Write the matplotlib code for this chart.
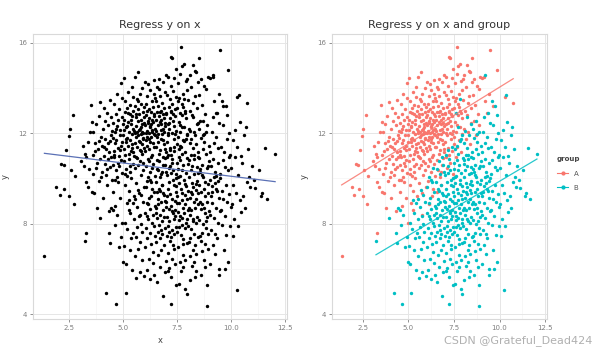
import matplotlib.pyplot as plt
import numpy as np

# points, (x, y)
group_a = [
    (1.35, 6.55), (1.90, 9.64), (2.05, 9.25), (2.13, 10.64), (2.24, 10.60), (2.35, 11.27), (2.28, 9.55),
    (2.52, 12.18), (2.47, 11.86), (2.59, 10.39), (2.79, 10.10), (2.69, 12.80), (2.72, 8.88), (2.50, 9.23),
    (3.05, 10.75), (3.12, 11.42), (3.18, 10.55), (3.22, 11.10), (3.30, 9.85), (3.35, 11.60), (3.41, 10.40),
    (3.46, 12.05), (3.50, 13.24), (3.28, 10.95), (3.38, 9.60), (3.29, 7.60),
    (3.54, 12.49), (3.58, 11.05), (3.62, 10.20), (3.66, 9.35), (3.70, 11.55), (3.72, 12.40), (3.78, 10.70),
    (3.80, 8.69), (3.84, 11.30), (3.88, 9.90), (3.92, 10.85), (3.95, 13.37), (3.97, 11.85), (3.60, 12.05),
    (3.68, 11.20), (3.74, 10.45), (3.86, 12.75), (3.99, 10.05), (3.56, 9.40), (3.90, 11.65),
    (4.02, 11.45), (4.04, 10.30), (4.06, 12.20), (4.08, 9.15), (4.10, 11.00), (4.12, 13.10), (4.14, 10.65),
    (4.16, 11.75), (4.18, 12.55), (4.20, 10.15), (4.22, 11.30), (4.24, 9.70), (4.26, 12.90), (4.28, 11.55),
    (4.30, 10.85), (4.32, 12.35), (4.34, 8.55), (4.36, 11.15), (4.38, 13.45), (4.40, 10.50), (4.42, 11.90),
    (4.44, 12.70), (4.46, 10.95), (4.48, 9.95), (4.13, 11.40), (4.27, 10.40), (4.39, 11.65), (4.47, 12.10),
    (4.51, 11.80), (4.52, 10.60), (4.54, 12.45), (4.55, 9.40), (4.57, 11.20), (4.58, 13.30), (4.60, 10.95),
    (4.61, 12.05), (4.63, 11.55), (4.64, 8.80), (4.66, 12.85), (4.67, 10.35), (4.69, 11.70), (4.70, 13.75),
    (4.72, 10.05), (4.73, 12.30), (4.75, 11.35), (4.76, 9.85), (4.78, 12.60), (4.79, 11.00), (4.81, 10.55),
    (4.82, 13.05), (4.84, 11.90), (4.85, 9.15), (4.87, 12.15), (4.88, 10.80), (4.90, 11.45), (4.91, 14.20),
    (4.93, 10.25), (4.94, 12.70), (4.96, 11.60), (4.97, 8.05), (4.99, 12.40), (4.56, 11.05), (4.68, 12.20),
    (4.77, 10.70), (4.86, 11.25), (4.95, 13.55), (4.62, 9.95),
    (5.01, 11.90), (5.02, 10.75), (5.03, 12.60), (5.05, 14.44), (5.06, 11.30), (5.07, 9.70), (5.08, 12.95),
    (5.10, 11.05), (5.11, 13.40), (5.12, 10.40), (5.14, 12.25), (5.15, 11.60), (5.16, 8.90), (5.18, 13.10),
    (5.19, 11.80), (5.20, 10.10), (5.22, 12.50), (5.23, 11.45), (5.24, 13.80), (5.26, 10.85), (5.27, 12.05),
    (5.28, 9.45), (5.30, 11.70), (5.31, 12.85), (5.32, 10.55), (5.34, 13.25), (5.35, 11.20), (5.36, 12.40),
    (5.38, 10.00), (5.39, 11.95), (5.40, 14.05), (5.42, 11.50), (5.43, 12.75), (5.44, 10.65), (5.46, 11.15),
    (5.47, 13.00), (5.48, 12.20), (5.49, 9.20), (5.04, 12.15), (5.13, 11.75), (5.21, 12.90), (5.29, 11.10),
    (5.33, 10.30), (5.37, 12.60), (5.41, 11.35), (5.45, 13.60), (5.09, 10.20), (5.17, 12.30), (5.25, 8.60),
    (5.51, 12.10), (5.52, 11.00), (5.53, 13.20), (5.55, 14.47), (5.56, 11.55), (5.57, 10.45), (5.58, 12.70),
    (5.59, 9.80), (5.60, 12.30), (5.62, 11.85), (5.63, 13.50), (5.64, 10.90), (5.65, 12.05), (5.66, 11.40),
    (5.68, 13.05), (5.69, 14.70), (5.70, 10.60), (5.71, 12.55), (5.72, 11.65), (5.74, 9.35), (5.75, 12.85),
    (5.76, 11.25), (5.77, 13.75), (5.78, 12.20), (5.80, 10.75), (5.81, 11.95), (5.82, 12.60), (5.83, 10.15),
    (5.85, 13.30), (5.86, 11.50), (5.87, 12.40), (5.88, 11.10), (5.89, 14.00), (5.91, 12.00), (5.92, 10.35),
    (5.93, 12.95), (5.94, 11.75), (5.95, 9.60), (5.97, 12.45), (5.98, 11.35), (5.99, 13.15), (5.54, 12.00),
    (5.61, 12.85), (5.67, 11.90), (5.73, 12.15), (5.79, 11.60), (5.84, 12.25), (5.90, 11.80), (5.96, 12.70),
    (5.58, 10.95), (5.70, 13.40), (5.82, 11.20), (5.94, 10.70), (5.76, 8.40), (5.88, 12.05),
    (6.01, 12.35), (6.02, 11.20), (6.03, 14.28), (6.04, 12.80), (6.06, 10.55), (6.07, 13.30), (6.08, 11.70),
    (6.09, 12.10), (6.10, 9.90), (6.12, 13.65), (6.13, 11.45), (6.14, 12.55), (6.15, 10.85), (6.17, 14.16),
    (6.18, 12.00), (6.19, 11.30), (6.20, 13.05), (6.21, 12.65), (6.23, 10.30), (6.24, 12.25), (6.25, 13.90),
    (6.26, 11.60), (6.28, 12.95), (6.29, 10.95), (6.30, 12.40), (6.31, 11.85), (6.33, 13.40), (6.34, 9.55),
    (6.35, 12.15), (6.36, 11.05), (6.38, 13.15), (6.39, 12.50), (6.40, 10.65), (6.41, 11.95), (6.43, 14.35),
    (6.44, 12.75), (6.45, 11.40), (6.46, 12.20), (6.48, 10.10), (6.49, 13.55), (6.05, 12.00), (6.11, 11.85),
    (6.16, 12.45), (6.22, 11.75), (6.27, 12.30), (6.32, 12.05), (6.37, 11.55), (6.42, 12.85), (6.47, 11.90),
    (6.09, 13.00), (6.20, 10.75), (6.31, 9.20), (6.42, 13.75), (6.14, 8.85), (6.36, 12.60),
    (6.51, 12.60), (6.52, 11.40), (6.54, 13.40), (6.55, 10.80), (6.56, 12.95), (6.58, 14.05), (6.59, 11.85),
    (6.60, 12.35), (6.62, 10.35), (6.63, 13.20), (6.64, 11.60), (6.66, 12.75), (6.67, 14.40), (6.68, 11.10),
    (6.70, 12.50), (6.71, 13.65), (6.72, 10.05), (6.74, 12.15), (6.75, 11.75), (6.76, 13.00), (6.78, 12.40),
    (6.79, 9.70), (6.80, 13.35), (6.82, 11.95), (6.83, 12.85), (6.84, 10.60), (6.86, 12.20), (6.87, 14.25),
    (6.88, 11.50), (6.90, 13.10), (6.91, 12.65), (6.92, 10.90), (6.94, 11.30), (6.95, 13.80), (6.96, 12.30),
    (6.98, 11.15), (6.99, 12.90), (6.53, 12.10), (6.61, 11.95), (6.69, 12.95), (6.77, 12.60), (6.85, 11.70),
    (6.93, 12.45), (6.57, 9.40), (6.65, 13.95), (6.73, 11.25), (6.81, 10.30), (6.89, 12.05), (6.97, 14.55),
    (7.01, 12.85), (7.02, 11.60), (7.04, 13.70), (7.05, 10.95), (7.07, 12.40), (7.08, 14.50), (7.10, 11.90),
    (7.11, 13.15), (7.13, 12.20), (7.14, 10.45), (7.16, 13.50), (7.17, 12.65), (7.19, 11.35), (7.20, 14.10),
    (7.22, 12.95), (7.23, 11.05), (7.25, 13.30), (7.26, 12.00), (7.28, 15.30), (7.29, 10.70), (7.31, 12.55),
    (7.32, 13.85), (7.34, 11.75), (7.35, 12.30), (7.37, 14.45), (7.38, 11.20), (7.40, 13.05), (7.41, 12.75),
    (7.43, 10.20), (7.44, 13.60), (7.46, 12.10), (7.47, 14.85), (7.49, 11.50), (7.06, 12.00), (7.15, 12.45),
    (7.24, 13.00), (7.33, 12.85), (7.42, 11.95), (7.21, 15.35),
    (7.51, 13.10), (7.53, 11.85), (7.55, 14.20), (7.57, 12.50), (7.59, 10.95), (7.61, 13.55), (7.63, 12.05),
    (7.65, 14.60), (7.67, 15.80), (7.69, 11.40), (7.71, 13.30), (7.73, 12.80), (7.75, 14.95), (7.77, 11.70),
    (7.79, 13.75), (7.81, 12.25), (7.84, 15.05), (7.86, 13.00), (7.88, 11.15), (7.90, 14.30), (7.92, 12.65),
    (7.94, 13.90), (7.96, 11.95), (7.98, 14.40), (7.56, 13.40), (7.66, 12.35), (7.76, 13.15), (7.87, 12.90),
    (8.02, 13.45), (8.05, 12.20), (8.08, 14.55), (8.11, 13.00), (8.14, 11.75), (8.17, 14.05), (8.20, 12.80),
    (8.23, 15.00), (8.26, 13.35), (8.29, 12.05), (8.32, 14.75), (8.35, 13.65), (8.38, 11.50), (8.40, 14.70),
    (8.43, 13.10), (8.46, 12.45), (8.49, 14.25), (8.50, 15.30),
    (8.53, 13.70), (8.58, 12.55), (8.62, 14.40), (8.67, 13.25), (8.71, 11.90), (8.76, 14.10), (8.81, 12.85),
    (8.85, 13.95), (8.90, 12.35), (8.95, 14.50),
    (9.05, 14.45), (9.15, 14.50), (9.22, 13.40), (9.32, 12.90), (9.43, 13.75),
    (9.50, 15.66), (9.62, 13.20), (9.87, 14.80), (10.30, 13.60), (10.75, 13.35),
]

group_b = [
    (3.23, 7.22), (3.95, 8.25),
    (4.20, 4.94), (4.35, 7.60), (4.45, 8.70), (4.40, 7.15),
    (4.65, 4.43), (4.55, 8.60), (4.62, 7.95), (4.80, 6.95), (4.92, 7.40), (4.98, 6.30), (4.72, 8.40),
    (5.15, 4.93), (5.02, 7.00), (5.08, 8.05), (5.12, 6.20), (5.20, 7.75), (5.25, 9.05), (5.30, 6.85),
    (5.33, 8.45), (5.38, 7.35), (5.42, 5.95), (5.45, 8.90), (5.48, 7.60),
    (5.51, 8.20), (5.53, 6.55), (5.56, 9.10), (5.58, 7.40), (5.61, 5.60), (5.63, 8.75), (5.66, 7.85),
    (5.68, 9.50), (5.71, 6.90), (5.73, 8.35), (5.76, 5.85), (5.78, 7.20), (5.81, 9.25), (5.83, 8.00),
    (5.86, 6.40), (5.88, 7.65), (5.92, 8.95), (5.96, 5.70),
    (6.01, 8.45), (6.03, 6.95), (6.05, 9.60), (6.07, 7.80), (6.09, 5.95), (6.11, 8.90), (6.13, 7.35),
    (6.15, 10.05), (6.17, 8.20), (6.19, 6.45), (6.21, 9.15), (6.23, 7.60), (6.25, 5.55), (6.27, 8.65),
    (6.29, 9.85), (6.31, 7.10), (6.33, 8.05), (6.35, 10.45), (6.37, 6.75), (6.39, 8.40), (6.41, 9.40),
    (6.43, 7.90), (6.45, 5.75), (6.47, 8.80), (6.49, 7.45), (6.12, 8.35), (6.26, 9.95), (6.40, 6.25),
    (6.51, 8.70), (6.52, 7.20), (6.54, 9.85), (6.55, 5.40), (6.57, 8.25), (6.58, 10.40), (6.60, 7.65),
    (6.61, 9.10), (6.63, 6.60), (6.64, 8.85), (6.66, 10.75), (6.67, 7.95), (6.69, 6.10), (6.70, 9.45),
    (6.72, 8.40), (6.73, 7.35), (6.75, 10.20), (6.76, 8.95), (6.78, 6.85), (6.79, 9.70), (6.81, 8.10),
    (6.82, 7.55), (6.84, 10.95), (6.85, 8.60), (6.87, 4.80), (6.88, 9.25), (6.90, 7.05), (6.91, 8.30),
    (6.93, 10.60), (6.94, 7.80), (6.96, 9.00), (6.97, 6.35), (6.99, 8.75), (6.53, 8.45), (6.65, 9.55),
    (6.74, 7.70), (6.83, 9.35), (6.92, 5.85), (6.98, 10.30),
    (7.01, 8.95), (7.02, 7.45), (7.03, 10.15), (7.05, 8.30), (7.06, 6.70), (7.07, 9.55), (7.09, 11.05),
    (7.10, 7.90), (7.11, 8.65), (7.13, 6.05), (7.14, 9.85), (7.15, 8.10), (7.17, 10.55), (7.18, 7.25),
    (7.19, 9.30), (7.21, 5.65), (7.22, 4.43), (7.23, 8.80), (7.25, 10.85), (7.26, 7.70), (7.27, 9.10),
    (7.29, 6.45), (7.30, 8.45), (7.31, 10.35), (7.33, 7.05), (7.34, 9.70), (7.35, 8.20), (7.37, 11.40),
    (7.38, 7.55), (7.39, 9.00), (7.41, 6.20), (7.42, 8.60), (7.43, 10.00), (7.45, 7.85), (7.46, 9.40),
    (7.47, 5.30), (7.49, 8.90), (7.04, 9.20), (7.12, 7.65), (7.20, 10.25), (7.28, 8.55), (7.36, 6.90),
    (7.44, 9.65), (7.08, 5.90), (7.16, 11.25), (7.24, 7.40), (7.32, 9.95), (7.40, 8.35), (7.48, 10.70),
    (7.51, 9.20), (7.52, 7.65), (7.53, 10.40), (7.54, 8.50), (7.56, 6.95), (7.57, 9.80), (7.58, 11.30),
    (7.59, 8.15), (7.61, 8.90), (7.62, 6.30), (7.63, 10.10), (7.64, 8.35), (7.66, 10.80), (7.67, 7.50),
    (7.68, 9.55), (7.69, 5.90), (7.71, 9.05), (7.72, 11.10), (7.73, 7.95), (7.74, 9.35), (7.76, 6.60),
    (7.77, 8.70), (7.78, 10.60), (7.79, 7.30), (7.81, 9.95), (7.82, 8.45), (7.83, 11.65), (7.84, 13.50),
    (7.86, 7.80), (7.87, 9.25), (7.88, 6.40), (7.89, 8.85), (7.91, 10.25), (7.92, 8.05), (7.93, 9.65),
    (7.94, 4.90), (7.96, 9.10), (7.97, 7.15), (7.98, 10.90), (7.99, 8.60), (7.55, 10.05), (7.61, 7.85),
    (7.65, 11.45), (7.71, 8.25), (7.75, 10.35), (7.80, 7.10), (7.85, 9.75), (7.90, 11.75), (7.95, 8.20),
    (7.58, 5.35), (7.73, 12.25), (7.88, 5.10), (7.62, 12.90), (7.80, 6.10), (7.95, 11.90),
    (8.01, 9.45), (8.02, 7.90), (8.03, 10.65), (8.04, 8.70), (8.06, 7.20), (8.07, 10.05), (8.08, 11.55),
    (8.09, 8.40), (8.11, 9.15), (8.12, 6.55), (8.13, 10.35), (8.14, 8.60), (8.16, 11.05), (8.17, 7.75),
    (8.18, 9.80), (8.19, 6.15), (8.21, 9.30), (8.22, 11.35), (8.23, 8.20), (8.24, 9.60), (8.26, 6.85),
    (8.27, 8.95), (8.28, 10.85), (8.29, 7.55), (8.31, 10.20), (8.32, 8.70), (8.33, 11.90), (8.34, 5.65),
    (8.36, 8.05), (8.37, 9.50), (8.38, 6.65), (8.39, 9.10), (8.41, 10.50), (8.42, 8.30), (8.43, 9.90),
    (8.44, 12.40), (8.46, 9.35), (8.47, 7.40), (8.48, 11.15), (8.49, 8.85), (8.05, 10.80), (8.10, 7.35),
    (8.15, 9.40), (8.20, 10.55), (8.25, 8.10), (8.30, 11.05), (8.35, 7.05), (8.40, 9.75), (8.45, 10.25),
    (8.08, 5.50), (8.23, 12.70), (8.38, 5.90), (8.12, 12.10), (8.30, 6.30), (8.45, 10.95),
    (8.51, 9.70), (8.52, 8.15), (8.54, 10.90), (8.55, 8.95), (8.57, 7.45), (8.58, 10.30), (8.60, 11.80),
    (8.61, 8.65), (8.63, 9.40), (8.64, 6.80), (8.66, 10.60), (8.67, 8.85), (8.69, 11.30), (8.70, 8.00),
    (8.72, 10.05), (8.73, 6.40), (8.75, 9.55), (8.76, 11.60), (8.78, 8.45), (8.79, 9.85), (8.81, 7.10),
    (8.82, 9.20), (8.84, 11.10), (8.85, 7.80), (8.87, 10.45), (8.88, 8.95), (8.89, 4.34), (8.90, 5.30),
    (8.91, 8.30), (8.93, 9.75), (8.94, 6.90), (8.96, 9.35), (8.97, 10.75), (8.99, 8.55), (8.53, 12.20),
    (8.62, 5.75), (8.71, 12.55), (8.80, 6.10), (8.86, 12.05), (8.95, 7.55), (8.56, 10.40), (8.65, 7.60),
    (8.74, 11.95), (8.83, 8.10), (8.92, 10.55), (8.59, 7.25), (8.68, 10.15), (8.77, 8.70), (8.98, 11.45),
    (9.01, 9.95), (9.03, 8.40), (9.04, 11.15), (9.06, 9.20), (9.08, 7.70), (9.09, 10.55), (9.11, 12.05),
    (9.13, 8.90), (9.14, 9.65), (9.16, 7.05), (9.18, 10.85), (9.19, 14.59), (9.21, 11.55), (9.23, 8.25),
    (9.24, 10.30), (9.26, 6.65), (9.28, 9.80), (9.29, 11.85), (9.31, 8.70), (9.33, 10.10), (9.34, 7.35),
    (9.36, 9.45), (9.38, 11.35), (9.39, 8.05), (9.41, 10.70), (9.43, 9.15), (9.44, 5.75), (9.46, 12.45),
    (9.48, 8.55), (9.49, 10.00), (9.05, 6.20), (9.15, 12.70), (9.25, 7.55), (9.35, 12.90), (9.45, 6.00),
    (9.12, 9.40), (9.22, 10.05), (9.32, 9.55), (9.42, 9.90),
    (9.51, 10.20), (9.53, 8.60), (9.55, 11.40), (9.57, 9.45), (9.59, 7.95), (9.61, 10.80), (9.63, 12.35),
    (9.65, 9.10), (9.67, 6.85), (9.69, 11.15), (9.71, 8.35), (9.73, 10.50), (9.75, 13.20), (9.77, 9.70),
    (9.79, 7.50), (9.81, 11.75), (9.83, 8.95), (9.85, 10.35), (9.87, 6.30), (9.89, 12.00), (9.91, 9.30),
    (9.93, 10.95), (9.95, 7.90), (9.97, 11.05), (9.99, 8.75), (9.60, 13.40), (9.72, 6.00), (9.84, 12.80),
    (10.02, 10.45), (10.05, 8.85), (10.08, 11.70), (10.11, 9.70), (10.14, 8.20), (10.17, 12.15),
    (10.20, 10.95), (10.23, 9.35), (10.26, 5.07), (10.28, 11.40), (10.31, 7.90), (10.34, 10.15),
    (10.37, 13.67), (10.40, 9.05), (10.43, 12.50), (10.46, 8.50), (10.48, 11.00), (10.10, 7.45),
    (10.52, 10.70), (10.56, 9.20), (10.61, 11.90), (10.65, 8.70), (10.70, 12.25), (10.74, 9.85),
    (10.79, 11.30), (10.84, 10.05), (10.90, 9.60), (10.96, 10.55),
    (11.05, 9.95), (11.14, 9.58), (11.30, 10.39), (11.38, 9.20), (11.45, 9.36),
    (11.56, 11.33), (11.68, 9.07), (12.05, 11.10),
]

ax_x, ay = np.array(group_a).T
bx, by = np.array(group_b).T
all_x = np.concatenate([ax_x, bx])
all_y = np.concatenate([ay, by])

col_a = "#F8766D"
col_b = "#00BFC4"

def fit_line(x, y):
    k, c = np.polyfit(x, y, 1)
    xs = np.array([x.min(), x.max()])
    return xs, k * xs + c

def style(ax):
    ax.set_facecolor("white")
    for s in ax.spines.values():
        s.set_color("#d9d9d9")
        s.set_linewidth(0.8)
    ax.set_xticks([2.5, 5.0, 7.5, 10.0, 12.5])
    ax.set_xticklabels(["2.5", "5.0", "7.5", "10.0", "12.5"])
    ax.set_yticks([4, 8, 12, 16])
    ax.set_xticks([3.75, 6.25, 8.75, 11.25], minor=True)
    ax.set_yticks([6, 10, 14], minor=True)
    ax.grid(True, which="major", color="#e6e6e6", lw=0.7)
    ax.grid(True, which="minor", color="#f4f4f4", lw=0.5)
    ax.set_axisbelow(True)
    ax.tick_params(which="major", labelsize=5, colors="#7f7f7f", length=2, width=0.6, pad=2)
    ax.tick_params(which="minor", length=0)
    ax.set_xlim(0.82, 12.6)
    ax.set_ylim(3.78, 16.4)
    ax.set_ylabel("y", fontsize=6, color="#444444", labelpad=6)

fig = plt.figure(figsize=(6.01, 3.57), dpi=100)
ax1 = fig.add_axes([0.0549, 0.106, 0.4226, 0.8])
ax2 = fig.add_axes([0.5524, 0.106, 0.3577, 0.8])

# left: pooled regression
ax1.scatter(all_x, all_y, s=6, c="black", linewidths=0)
lx, ly = fit_line(all_x, all_y)
ax1.plot(lx, ly, color="#5a70b5", lw=0.9)
style(ax1)
ax1.set_xlabel("x", fontsize=6, color="#444444", labelpad=4)
ax1.set_title("Regress y on x", fontsize=8, color="#333333", pad=4)

# right: by group
ax2.scatter(ax_x, ay, s=6, c=col_a, linewidths=0)
ax2.scatter(bx, by, s=6, c=col_b, linewidths=0)
fx, fy = fit_line(ax_x, ay)
ax2.plot(fx, fy, color=col_a, lw=0.9, alpha=0.85)
fx, fy = fit_line(bx, by)
ax2.plot(fx, fy, color=col_b, lw=0.9, alpha=0.85)
style(ax2)
ax2.set_title("Regress y on x and group", fontsize=8, color="#333333", pad=4)

# legend
h_a, = ax2.plot([], [], color=col_a, lw=0.8, marker="o", ms=2, label="A")
h_b, = ax2.plot([], [], color=col_b, lw=0.8, marker="o", ms=2, label="B")
leg = fig.legend(handles=[h_a, h_b], title="group", loc="upper left",
                 bbox_to_anchor=(0.915, 0.58), frameon=False, fontsize=5,
                 title_fontsize=5, handlelength=1.6, labelspacing=1.2)
leg.get_title().set_fontweight("bold")
leg.get_title().set_color("#444444")
for t in leg.get_texts():
    t.set_color("#555555")

fig.text(0.985, 0.03, "CSDN @Grateful_Dead424", ha="right", va="bottom",
         fontsize=8, color="#b0b0b0")

fig.savefig("out.png", dpi=100)
